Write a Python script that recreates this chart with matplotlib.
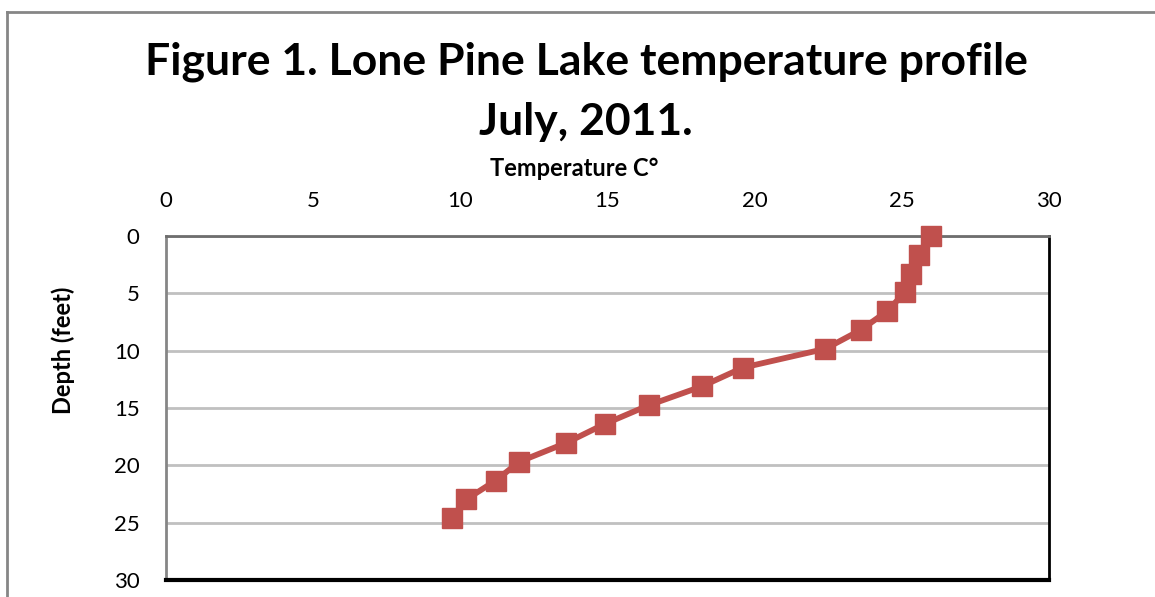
import matplotlib
matplotlib.use("Agg")
import matplotlib.pyplot as plt
from matplotlib.lines import Line2D

# temperature profile (depth in feet, half-metre steps)
depth_ft = [0, 1.64, 3.28, 4.92, 6.56, 8.2, 9.84, 11.48, 13.12, 14.76,
            16.4, 18.04, 19.69, 21.33, 22.97, 24.61]
temp_c = [26.0, 25.6, 25.3, 25.1, 24.5, 23.6, 22.4, 19.6, 18.2, 16.4,
          14.9, 13.6, 12.0, 11.2, 10.2, 9.7]

x_ticks = [0, 5, 10, 15, 20, 25, 30]
y_ticks = [0, 5, 10, 15, 20, 25, 30]

title_lines = ["Figure 1. Lone Pine Lake temperature profile", "July, 2011."]
x_label = "Temperature C°"
y_label = "Depth (feet)"

red = "#C0504D"
W, H = 1155, 597

plt.rcParams['font.family'] = ['Lato', 'DejaVu Sans']

fig = plt.figure(figsize=(W / 100, H / 100), dpi=100)
ax = fig.add_axes([166 / W, 1 - 580 / H, (1049 - 166) / W, (580 - 236) / H])

ax.plot(temp_c, depth_ft, color=red, lw=4.2, marker='s', ms=14.5,
        mfc=red, mec=red, zorder=3, clip_on=False)

ax.set_xlim(0, 30)
ax.set_ylim(30, 0)
ax.set_xticks(x_ticks)
ax.set_yticks(y_ticks)
ax.xaxis.tick_top()
ax.tick_params(length=0, labelsize=16, colors='black')
ax.tick_params(axis='x', pad=18)
ax.tick_params(axis='y', pad=19)

ax.grid(axis='y', color='#C0C0C0', lw=2)
ax.set_axisbelow(True)
ax.spines['left'].set_color('#868686')
ax.spines['left'].set_linewidth(2)
ax.spines['top'].set_color('#6e6e6e')
ax.spines['top'].set_linewidth(2)
ax.spines['right'].set_color('black')
ax.spines['right'].set_linewidth(2)
ax.spines['bottom'].set_color('black')
ax.spines['bottom'].set_linewidth(3)

fig.text(586 / W, 1 - 62 / H, title_lines[0], ha='center', va='center',
         fontsize=32, fontweight='bold')
fig.text(586 / W, 1 - 122 / H, title_lines[1], ha='center', va='center',
         fontsize=32, fontweight='bold')
fig.text(574 / W, 1 - 168 / H, x_label, ha='center', va='center',
         fontsize=17, fontweight='bold')
fig.text(63 / W, 1 - 350 / H, y_label, ha='center', va='center',
         rotation=90, fontsize=17, fontweight='bold')

# chart frame, cut off at the right and bottom of the picture
fig.add_artist(Line2D([7 / W, 1.0], [1 - 12 / H, 1 - 12 / H],
                      color='#868686', lw=2, transform=fig.transFigure))
fig.add_artist(Line2D([7 / W, 7 / W], [0.0, 1 - 12 / H],
                      color='#868686', lw=2, transform=fig.transFigure))

fig.savefig("out.png", dpi=100, facecolor='white')
